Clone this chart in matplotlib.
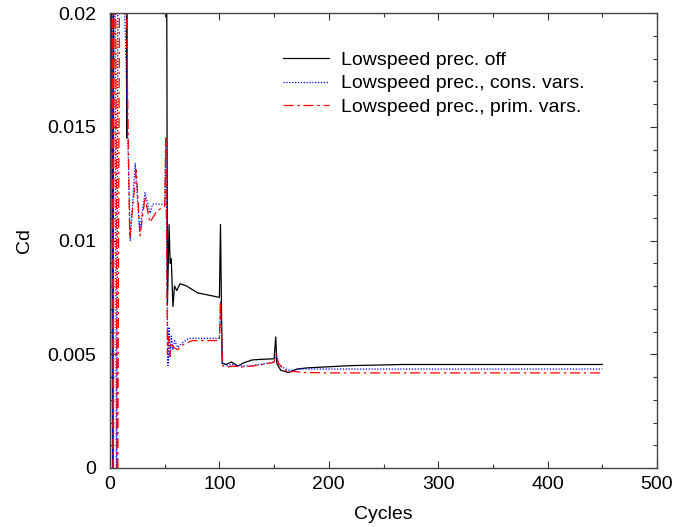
import matplotlib
matplotlib.use("Agg")
import matplotlib.pyplot as plt
from matplotlib.ticker import MultipleLocator

plt.rcParams['font.family'] = ['Liberation Sans', 'DejaVu Sans']

# Series: Lowspeed prec. off
off_x = [0, 1, 2.5, 4, 14.5, 15.3, 16, 50, 51, 52.5, 54, 55, 56, 57.5, 59, 61, 64,
         70, 80, 90, 100, 101, 102.5, 106, 111, 117, 122, 130, 140, 150, 151.5, 152.5,
         156, 163, 171, 180, 200, 220, 240, 268, 300, 350, 400, 450]
off_y = [0.0, 0.04, -0.005, 0.04, 0.04, 0.0145, 0.04, 0.04, 0.04, 0.0072, 0.0107, 0.0090,
         0.0092, 0.0071, 0.0080, 0.0078, 0.0081, 0.0080, 0.0077, 0.0076, 0.0075, 0.0107,
         0.0046, 0.00455, 0.00466, 0.00448, 0.00462, 0.00475, 0.00478, 0.0048, 0.00576,
         0.0046, 0.0043, 0.0042, 0.00435, 0.0044, 0.00445, 0.0045, 0.00452, 0.00455,
         0.00455, 0.00455, 0.00455, 0.00455]

# Series: Lowspeed prec., cons. vars.
cons_x = [0, 1.5, 2.5, 3.7, 6, 8, 11, 18.5, 23, 27, 32, 36.5, 39, 45, 50, 51, 53, 54,
          55, 56, 57.5, 59, 62, 66, 72, 90, 100, 101, 103, 107, 112, 120, 130, 140, 150,
          152, 154, 157, 163, 168, 174, 200, 300, 450]
cons_y = [0.0, 0.04, -0.005, 0.04, -0.005, 0.04, 0.025, 0.0100, 0.0134, 0.0104, 0.0121,
          0.0112, 0.0116, 0.0116, 0.0116, 0.0145, 0.0045, 0.0062, 0.0049, 0.0058, 0.0052,
          0.0056, 0.0053, 0.0055, 0.0057, 0.0057, 0.0057, 0.0073, 0.0046, 0.0045, 0.00455,
          0.00448, 0.0045, 0.00458, 0.00466, 0.0050, 0.0046, 0.00444, 0.0043, 0.0043,
          0.00435, 0.00435, 0.00435, 0.00435]

# Series: Lowspeed prec., prim. vars.
prim_x = [0, 1.8, 3, 4.2, 6.8, 10, 12, 18, 24, 27.5, 32, 36.5, 43, 50, 51, 52.5, 53.5,
          54.5, 56, 58, 62, 66, 75, 90, 100, 101, 103, 106, 112, 120, 130, 140, 150, 152,
          154, 157, 163, 168, 175, 200, 300, 450]
prim_y = [0.0, 0.04, -0.005, 0.04, -0.005, 0.04, 0.03, 0.0101, 0.0131, 0.0102, 0.0119,
          0.0108, 0.0113, 0.0115, 0.0145, 0.0050, 0.0058, 0.0049, 0.0055, 0.0053, 0.0052,
          0.0054, 0.0056, 0.0056, 0.0056, 0.0073, 0.0045, 0.00442, 0.00448, 0.00444,
          0.00448, 0.00455, 0.00465, 0.0050, 0.0046, 0.00444, 0.0042, 0.00425, 0.0042,
          0.00418, 0.00418, 0.00418]

labels = ['Lowspeed prec. off', 'Lowspeed prec., cons. vars.', 'Lowspeed prec., prim. vars.']

fig = plt.figure(figsize=(6.91, 5.27), dpi=100)
ax = fig.add_axes([110/691, 1-468/527, 547/691, 455/527])

ax.plot(off_x, off_y, color='black', lw=0.9, label=labels[0])
ax.plot(cons_x, cons_y, color='blue', lw=0.9, dashes=[1, 1.3], label=labels[1])
ax.plot(prim_x, prim_y, color='red', lw=0.9, dashes=[8, 3, 2, 3], label=labels[2])

ax.set_xlim(0, 500)
ax.set_ylim(0, 0.02)
ax.xaxis.set_major_locator(MultipleLocator(100))
ax.xaxis.set_minor_locator(MultipleLocator(50))
ax.yaxis.set_minor_locator(MultipleLocator(0.001))
ax.set_yticks([0, 0.005, 0.01, 0.015, 0.02])
ax.set_yticklabels(['0', '0.005', '0.01', '0.015', '0.02'])
ax.tick_params(which='both', direction='in', top=True, right=True, labelsize=14, color='#333333')
ax.tick_params(which='major', length=5, width=0.8)
ax.tick_params(which='minor', length=3, width=0.8)
ax.tick_params(axis='y', pad=10)
ax.tick_params(axis='x', pad=6)
for s in ax.spines.values():
    s.set_color('#444444')
    s.set_linewidth(1.0)

ax.set_xlabel('Cycles', fontsize=14, labelpad=9)
ax.set_ylabel('Cd', fontsize=14, labelpad=10)

ax.legend(loc='upper left', bbox_to_anchor=(0.287, 0.95), frameon=False, fontsize=14,
          handlelength=2.4, handletextpad=0.6, labelspacing=0.3, borderpad=0.3)

fig.savefig('out.png', dpi=100)
